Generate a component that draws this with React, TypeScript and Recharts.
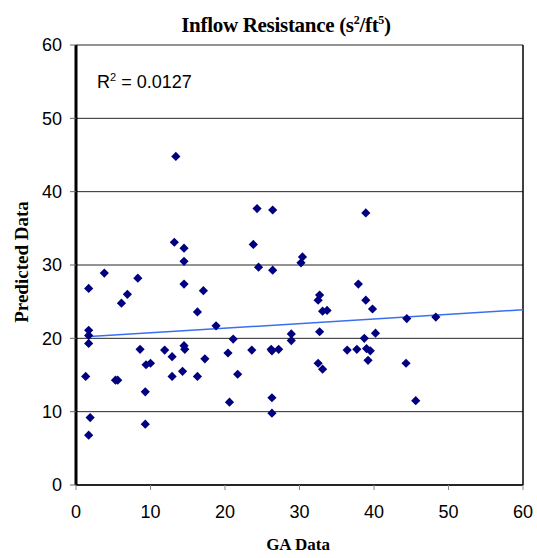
import React from "react";
import {
  CartesianGrid,
  ReferenceLine,
  Scatter,
  ScatterChart,
  XAxis,
  YAxis,
} from "recharts";

const gaData = [
  13.4, 24.3, 26.4, 38.9, 13.2, 23.8, 14.5, 30.4, 14.5, 30.2, 24.5, 26.4, 3.8,
  8.3, 14.5, 37.9, 1.7, 17.1, 6.9, 32.7, 32.5, 38.9, 6.1, 39.8, 33.1, 33.7,
  16.3, 44.4, 48.3, 18.8, 1.7, 32.7, 40.2, 28.9, 1.7, 21.1, 38.7, 28.9, 1.7,
  14.5, 8.6, 14.6, 11.9, 23.6, 26.2, 26.3, 27.2, 36.4, 37.7, 39.0, 39.5, 20.4,
  12.9, 17.3, 39.2, 10.0, 9.4, 32.5, 44.3, 33.1, 14.3, 21.7, 1.3, 12.9, 16.3,
  5.3, 5.6, 9.3, 26.3, 45.6, 20.6, 26.3, 1.9, 9.3, 1.7,
];

const predictedData = [
  44.8, 37.7, 37.5, 37.1, 33.1, 32.8, 32.3, 31.1, 30.5, 30.3, 29.7, 29.3, 28.9,
  28.2, 27.4, 27.4, 26.8, 26.5, 26.0, 25.9, 25.2, 25.2, 24.8, 24.0, 23.7, 23.8,
  23.6, 22.7, 22.9, 21.7, 21.1, 20.9, 20.7, 20.6, 20.4, 19.9, 20.0, 19.7, 19.3,
  19.0, 18.5, 18.5, 18.4, 18.4, 18.5, 18.3, 18.5, 18.4, 18.5, 18.6, 18.3, 18.0,
  17.5, 17.2, 17.0, 16.6, 16.4, 16.6, 16.6, 15.8, 15.5, 15.1, 14.8, 14.8, 14.8,
  14.3, 14.3, 12.7, 11.9, 11.5, 11.3, 9.8, 9.2, 8.3, 6.8,
];

// linear trendline, drawn from the smallest GA value out to 60
const trendX = [1.3, 60];
const trendY = [20.2, 23.9];

const axisTicks = [0, 10, 20, 30, 40, 50, 60];

const points = gaData.map((x, i) => ({ x, y: predictedData[i] }));

const serif = '"Liberation Serif", "Times New Roman", serif';
const sans = '"Liberation Sans", Arial, sans-serif';

function Diamond(props: any) {
  const { cx, cy } = props;
  if (cx == null || cy == null) return null;
  const r = 4.6;
  return (
    <polygon
      points={`${cx},${cy - r} ${cx + r},${cy} ${cx},${cy + r} ${cx - r},${cy}`}
      fill="#000080"
    />
  );
}

const supStyle = { fontSize: 12, verticalAlign: "8px", lineHeight: 0 };

export default function App() {
  return (
    <div style={{ position: "relative", width: 537, height: 558 }}>
      {/* chart fills the whole window, so drop the default body margin */}
      <style>{`html, body { margin: 0; overflow: hidden; }`}</style>
      <ScatterChart
        width={537}
        height={558}
        margin={{ top: 45, right: 14, bottom: 43, left: 36 }}
      >
        <CartesianGrid vertical={false} stroke="#000" strokeOpacity={0.85} />
        <XAxis
          type="number"
          dataKey="x"
          domain={[0, 60]}
          ticks={axisTicks}
          height={30}
          tickSize={5}
          tickMargin={15}
          axisLine={{ stroke: "#000", strokeWidth: 1.5 }}
          tickLine={{ stroke: "#888" }}
          tick={{ fill: "#000", fontSize: 18, fontFamily: sans }}
        />
        <YAxis
          type="number"
          dataKey="y"
          domain={[0, 60]}
          ticks={axisTicks}
          width={40}
          tickSize={6}
          tickMargin={8}
          axisLine={{ stroke: "#000", strokeWidth: 3 }}
          tickLine={{ stroke: "#666" }}
          tick={{ fill: "#000", fontSize: 18, fontFamily: sans }}
        />
        <ReferenceLine x={60} stroke="#000" strokeWidth={1.5} />
        <ReferenceLine
          segment={[
            { x: trendX[0], y: trendY[0] },
            { x: trendX[1], y: trendY[1] },
          ]}
          stroke="#3a6ef0"
          strokeWidth={1.5}
        />
        <Scatter data={points} shape={Diamond} isAnimationActive={false} />
      </ScatterChart>

      <div
        style={{
          position: "absolute",
          left: 286,
          top: 13,
          transform: "translateX(-50%)",
          whiteSpace: "nowrap",
          fontFamily: serif,
          fontWeight: "bold",
          fontSize: 21,
          letterSpacing: -0.3,
        }}
      >
        Inflow Resistance (s<sup style={supStyle}>2</sup>/ft
        <sup style={supStyle}>5</sup>)
      </div>

      <div
        style={{
          position: "absolute",
          left: 97,
          top: 72,
          whiteSpace: "nowrap",
          fontFamily: sans,
          fontSize: 18,
        }}
      >
        R<sup style={{ fontSize: 11, verticalAlign: "7px", lineHeight: 0 }}>2</sup> = 0.0127
      </div>

      <div
        style={{
          position: "absolute",
          left: 22,
          top: 262,
          transform: "translate(-50%, -50%) rotate(-90deg)",
          whiteSpace: "nowrap",
          fontFamily: serif,
          fontWeight: "bold",
          fontSize: 19,
        }}
      >
        Predicted Data
      </div>

      <div
        style={{
          position: "absolute",
          left: 298,
          top: 545,
          transform: "translate(-50%, -50%)",
          whiteSpace: "nowrap",
          fontFamily: serif,
          fontWeight: "bold",
          fontSize: 17,
        }}
      >
        GA Data
      </div>
    </div>
  );
}
